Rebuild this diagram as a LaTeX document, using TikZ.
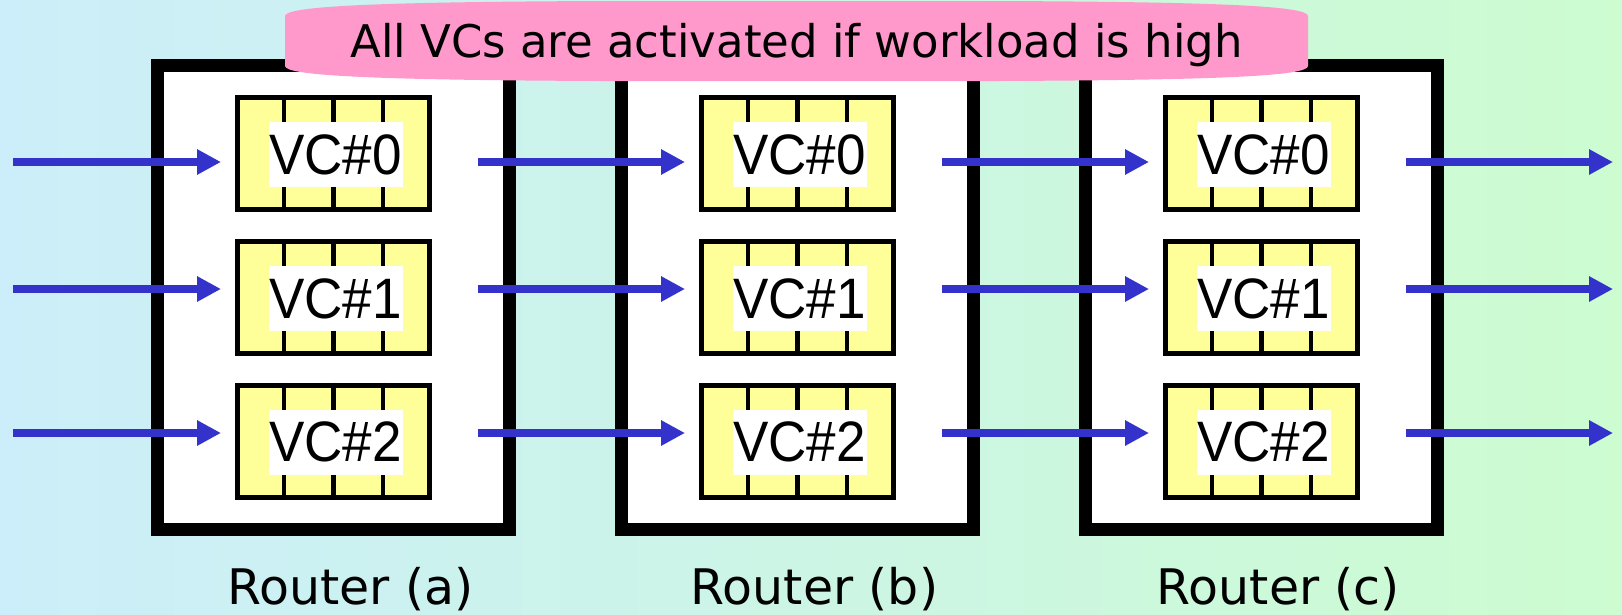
\documentclass[tikz,border=0pt]{standalone}
\usepackage{fontspec}
\usetikzlibrary{arrows.meta}
\newfontfamily\vcfont{Liberation Sans}
\newfontfamily\djfont{DejaVu Sans}
\definecolor{bgl}{RGB}{204,238,250}
\definecolor{bgr}{RGB}{204,252,208}
\definecolor{pinkb}{RGB}{255,153,204}
\definecolor{vcyellow}{RGB}{255,255,153}
\definecolor{arrowblue}{RGB}{51,51,204}
\tikzset{
 routerbox/.style={draw=black, line width=13pt, fill=white, minimum width=352pt, minimum height=464pt, inner sep=0pt},
 vcbox/.style={draw=black, line width=5pt, fill=vcyellow, minimum width=192pt, minimum height=112pt, inner sep=0pt},
 vcdiv/.style={draw=black, line width=4.5pt},
 vclabel/.style={fill=white, minimum width=134pt, minimum height=65pt, inner sep=0pt, font=\vcfont\fontsize{57pt}{60pt}\selectfont},
 flow/.style={draw=arrowblue, line width=7.5pt, -{Triangle[length=24pt,width=24pt]}},
 routerlabel/.style={font=\djfont\fontsize{49pt}{55pt}\selectfont, anchor=base, inner sep=0pt},
 bannertext/.style={font=\djfont\fontsize{45pt}{50pt}\selectfont, anchor=base, inner sep=0pt},
}
\begin{document}
\begin{tikzpicture}[x=1pt,y=-1pt]
\useasboundingbox (0,0) rectangle (1622,614);
\shade[left color=bgl, right color=bgr] (0,0) rectangle (1622,614);
\foreach \rt/\cx in {a/333.5, b/797.5, c/1261.5} {
  \node[routerbox] (R\rt) at (\cx,297.5) {};
  \foreach \vi/\vy/\ay in {0/153.5/162, 1/297.5/289, 2/441/433} {
    \node[vcbox] (\rt\vi) at (\cx,\vy) {};
    \foreach \dx in {-49.5,0,49.5}
      \draw[vcdiv] ([xshift=\dx pt]\rt\vi.north) -- ([xshift=\dx pt]\rt\vi.south);
    \node[vclabel] (\rt\vi-lab) at ([xshift=2pt,yshift=-1pt]\rt\vi.center) {\scalebox{0.93}[1]{VC\#\vi}};
    \coordinate (\rt in\vi) at (\cx-112.5,\ay);
    \coordinate (\rt out\vi) at (\cx+144.5,\ay);
  }
  \node[routerlabel] (\rt-name) at (\cx+17,604) {Router (\rt)};
}
\foreach \vi/\ay in {0/162, 1/289, 2/433} {
  \coordinate (src\vi) at (13,\ay);
  \coordinate (sink\vi) at (1613,\ay);
  \draw[flow] (src\vi) -- (ain\vi);
  \draw[flow] (aout\vi) -- (bin\vi);
  \draw[flow] (bout\vi) -- (cin\vi);
  \draw[flow] (cout\vi) -- (sink\vi);
}
\fill[pinkb] (285,16) .. controls (285,6) and (380,2) .. (600,1) -- (1000,1)
  .. controls (1220,2) and (1308,6) .. (1308,16) -- (1308,66)
  .. controls (1308,76) and (1220,80) .. (1000,81) -- (600,81)
  .. controls (380,80) and (285,76) .. (285,66) -- cycle;
\node[bannertext] (banner) at (796.5,57) {All VCs are activated if workload is high};
\end{tikzpicture}
\end{document}
